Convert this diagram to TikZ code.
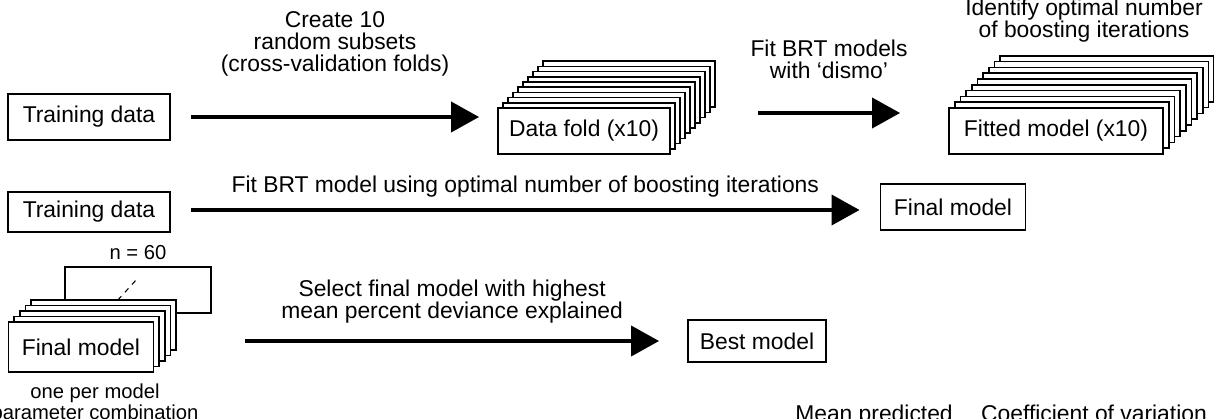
\documentclass[tikz,border=0pt]{standalone}
\usepackage{fontspec}
\setmainfont{Liberation Sans}
\usepackage{tikz}
\usetikzlibrary{arrows.meta,positioning,calc}

\begin{document}
\begin{tikzpicture}[
  x=0.02cm, y=-0.02cm,
  txt/.style={font=\fontsize{13}{12.5}\selectfont, align=center, inner sep=0pt},
  small/.style={font=\fontsize{11.5}{12}\selectfont, align=center, inner sep=0pt},
  box/.style={
    draw, line width=1pt, fill=white, inner sep=0pt,
    minimum height=46*0.02cm, font=\fontsize{13}{12.5}\selectfont
  },
  arrow/.style={-{Triangle[length=16pt, width=17pt]}, line width=2.6pt}
]
\useasboundingbox (0,0) rectangle (1214,419);

% row 1
\node[box, minimum width=162*0.02cm] (train1) at (89,117) {Training data};
\foreach \i in {9,...,1}
  \node[box, minimum width=172*0.02cm] (fold\i) at ($(584,131)+(5*\i,-5.2*\i)$) {};
\node[box, minimum width=172*0.02cm] (fold) at (584,131) {Data fold (x10)};
\foreach \i in {9,...,1}
  \node[box, minimum width=214*0.02cm] (fit\i) at ($(1056,131)+(5.7*\i,-5.8*\i)$) {};
\node[box, minimum width=214*0.02cm] (fit) at (1056,131) {Fitted model (x10)};

\draw[arrow] ($(train1.east)+(20,0)$) -- ($(fold.west |- train1.east)+(-18,0)$)
  node[txt, midway, above=22pt] {Create 10\\random subsets\\(cross-validation folds)};
\draw[arrow] ($(fold9.east |- fold.center)+(42,-18)$) -- ($(fit.west |- fold.center)+(-48,-18)$)
  node[txt, midway, above=18pt] {Fit BRT models\\with `dismo'};
\node[txt] (ident) at (1084,21) {Identify optimal number\\of boosting iterations};

% row 2
\node[box, minimum width=162*0.02cm, minimum height=40*0.02cm] (train2) at (89,212) {Training data};
\node[box, minimum width=145*0.02cm] (final) at (953,207) {Final model};
\draw[arrow] ($(train2.east)+(20,-2)$) -- ($(final.west)+(-20,3)$)
  node[txt, midway, above=6pt] {Fit BRT model using optimal number of boosting iterations};

% row 3
\node[box, minimum width=146*0.02cm] (group) at (138,290) {};
\node[small] (count) at (group.north |- 0,253) {n = 60};
\foreach \i in {4,...,1}
  \node[box, minimum width=145*0.02cm, minimum height=50*0.02cm] (cand\i) at ($(81,347)+(5.7*\i,-5.5*\i)$) {};
\node[box, minimum width=145*0.02cm, minimum height=50*0.02cm] (cand) at (81,347) {Final model};
\draw[dashed, line width=0.6pt] (cand4.north) ++(14,1) -- ++(20,-22);
\node[small, below=6pt of cand, xshift=14*0.02cm] (per) {one per model\\parameter combination};
\node[box, minimum width=138*0.02cm, minimum height=42*0.02cm] (best) at (757,341) {Best model};
\draw[arrow] ($(cand4.east |- best.west)+(68,0)$) -- ($(best.west)+(-28,0)$)
  node[txt, midway, above=9pt] {Select final model with highest\\mean percent deviance explained};

% clipped labels at the bottom
\node[txt, anchor=north] (meanpred) at (874,405) {Mean predicted};
\node[txt, anchor=north] (coefvar) at (1094,405) {Coefficient of variation};
\end{tikzpicture}
\end{document}
